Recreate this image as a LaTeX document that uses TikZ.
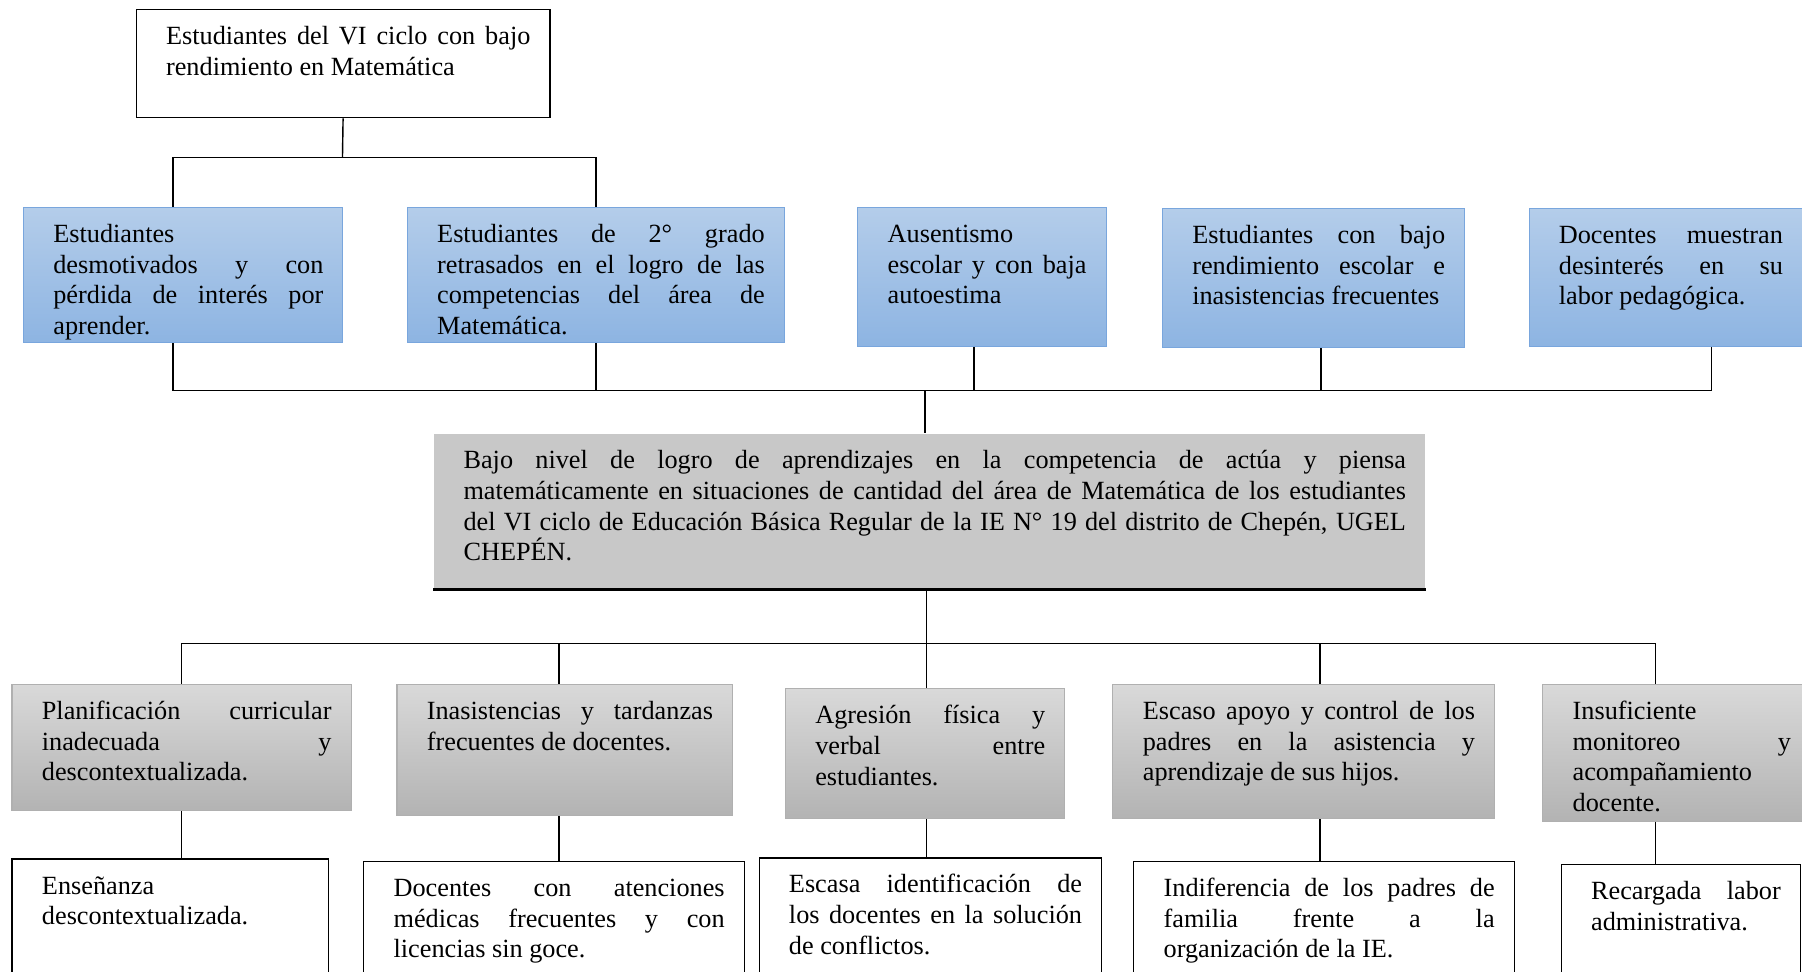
\documentclass[tikz,border=0pt]{standalone}
\usepackage{fontspec}
\setmainfont{Liberation Serif}
\usepackage{tikz}

\definecolor{effecttop}{HTML}{B4CDEA}
\definecolor{effectbottom}{HTML}{8DB4E2}
\definecolor{effectborder}{HTML}{79A6DD}
\definecolor{causetop}{HTML}{D9D9D9}
\definecolor{causebottom}{HTML}{B3B3B3}
\definecolor{causeborder}{HTML}{B0B0B0}
\definecolor{problemgray}{HTML}{C8C8C8}

\newcommand{\boxfont}{\fontsize{13}{15.2}\selectfont}

\begin{document}
\begin{tikzpicture}[
    base/.style={rectangle, anchor=north west, align=justify, inner xsep=0.34cm, inner ysep=0.2cm, text height=0.41cm, font=\boxfont, execute at begin node={\leftskip=0.18cm}},
    effect/.style={base, draw=effectborder, line width=0.5pt, top color=effecttop, bottom color=effectbottom},
    cause/.style={base, draw=causeborder, line width=0.5pt, top color=causetop, bottom color=causebottom},
    root/.style={base, draw=black, line width=0.6pt, fill=white},
    problem/.style={base, fill=problemgray},
    link/.style={line width=0.7pt}
]

\useasboundingbox (0,0) rectangle (31.36,16.9);
\clip (0,0) rectangle (31.36,16.9);

% Final effect
\node[root, text width=6.52cm, text depth=1.07cm] (E0) at (2.36,16.74) {Estudiantes del VI ciclo con bajo\linebreak rendimiento en Matemática};

% Effects
\node[effect, text width=4.88cm, text depth=1.55cm] (E1) at (0.40,13.30) {Estudiantes\linebreak desmotivados y con\linebreak pérdida de interés por\linebreak aprender.};
\node[effect, text width=5.88cm, text depth=1.55cm] (E2) at (7.08,13.30) {Estudiantes de 2° grado\linebreak retrasados en el logro de las\linebreak competencias del área de\linebreak Matemática.};
\node[effect, text width=3.64cm, text depth=1.61cm] (E3) at (14.92,13.30) {Ausentismo\linebreak escolar y con baja\linebreak autoestima};
\node[effect, text width=4.58cm, text depth=1.61cm] (E4) at (20.22,13.28) {Estudiantes con bajo\linebreak rendimiento escolar e\linebreak inasistencias frecuentes};
\node[effect, text width=4.08cm, text depth=1.59cm] (E5) at (26.60,13.28) {Docentes muestran\linebreak desinterés en su\linebreak labor pedagógica.};

% Central problem
\node[problem, text width=16.58cm, text depth=1.89cm] (P) at (7.54,9.36) {Bajo nivel de logro de aprendizajes en la competencia de actúa y piensa\linebreak matemáticamente en situaciones de cantidad del área de Matemática de los estudiantes\linebreak del VI ciclo de Educación Básica Regular de la IE N° 19 del distrito de Chepén, UGEL\linebreak CHEPÉN.};
\draw[line width=1.6pt] (P.south west) -- (P.south east);

% Causes
\node[cause, text width=5.22cm, text depth=1.39cm] (C1) at (0.20,5.00) {Planificación curricular\linebreak inadecuada y\linebreak descontextualizada.};
\node[cause, text width=5.16cm, text depth=1.47cm] (C2) at (6.90,5.00) {Inasistencias y tardanzas\linebreak frecuentes de docentes.};
\node[cause, text width=4.18cm, text depth=1.45cm] (C3) at (13.66,4.92) {Agresión física y\linebreak verbal entre\linebreak estudiantes.};
\node[cause, text width=5.96cm, text depth=1.53cm] (C4) at (19.36,5.00) {Escaso apoyo y control de los\linebreak padres en la asistencia y\linebreak aprendizaje de sus hijos.};
\node[cause, text width=3.98cm, text depth=1.57cm] (C5) at (26.84,5.00) {Insuficiente\linebreak monitoreo y\linebreak acompañamiento\linebreak docente.};

% Root causes
\node[root, text width=4.82cm, text depth=1.64cm] (R1) at (0.20,1.96) {Enseñanza\linebreak descontextualizada.};
\node[root, text width=5.94cm, text depth=1.64cm] (R2) at (6.32,1.92) {Docentes con atenciones\linebreak médicas frecuentes y con\linebreak licencias sin goce.};
\node[root, text width=5.28cm, text depth=1.64cm] (R3) at (13.20,1.98) {Escasa identificación de\linebreak los docentes en la solución\linebreak de conflictos.};
\node[root, text width=5.94cm, text depth=1.64cm] (R4) at (19.72,1.92) {Indiferencia de los padres de\linebreak familia frente a la\linebreak organización de la IE.};
\node[root, text width=3.48cm, text depth=1.64cm] (R5) at (27.16,1.86) {Recargada labor\linebreak administrativa.};

% Junctions
\coordinate (j1) at (5.96,14.16);
\coordinate (j2) at (16.10,10.10);
\coordinate (j3) at (16.12,5.70);

% Final effect to effects
\draw[link] (E0.south) -- (j1);
\draw[link] ([xshift=-0.18cm]E1.north) |- (j1) -| (E2.north);

% Effects to problem
\draw[link] ([xshift=-0.18cm]E1.south) |- (j2) -| ([xshift=0.80cm]E5.south);
\draw[link] (E2.south) -- (E2.south |- j2);
\draw[link] ([xshift=-0.14cm]E3.south) -- ([xshift=-0.14cm]E3.south |- j2);
\draw[link] ([xshift=0.13cm]E4.south) -- ([xshift=0.13cm]E4.south |- j2);
\draw[link] (j2) -- (j2 |- P.north);

% Problem to causes
\draw[link] (P.south -| j3) -- (C3.north -| j3);
\draw[link] (C1.north) |- (j3) -| ([xshift=-0.37cm]C5.north);
\draw[link] ([xshift=-0.10cm]C2.north) -- ([xshift=-0.10cm]C2.north |- j3);
\draw[link] ([xshift=0.28cm]C4.north) -- ([xshift=0.28cm]C4.north |- j3);

% Causes to root causes
\draw[link] (C1.south) -- (C1.south |- R1.north);
\draw[link] ([xshift=-0.10cm]C2.south) -- ([xshift=-0.10cm]C2.south |- R2.north);
\draw[link] (C3.south -| j3) -- (R3.north -| j3);
\draw[link] ([xshift=0.28cm]C4.south) -- ([xshift=0.28cm]C4.south |- R4.north);
\draw[link] ([xshift=-0.37cm]C5.south) -- ([xshift=-0.37cm]C5.south |- R5.north);

\end{tikzpicture}
\end{document}
